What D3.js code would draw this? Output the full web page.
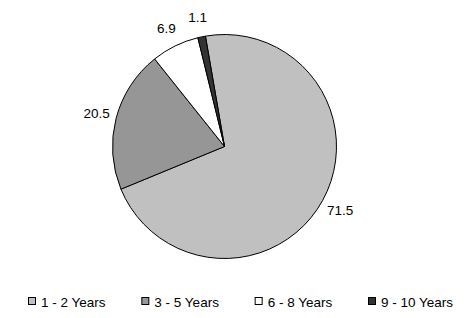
<!DOCTYPE html>
<html><head><meta charset="utf-8">
<script src="https://cdn.jsdelivr.net/npm/d3@7"></script>
<style>body{margin:0;background:#fff}svg{display:block}</style>
</head><body>
<script>
const categories = ["1 - 2 Years", "3 - 5 Years", "6 - 8 Years", "9 - 10 Years"];
const values = [71.5, 20.5, 6.9, 1.1];
const labels = ["71.5", "20.5", "6.9", "1.1"];
const colors = ["#c0c0c0", "#969696", "#ffffff", "#333333"];

const W = 465, H = 318;
const svg = d3.select("body").append("svg").attr("width", W).attr("height", H);
const cx = 224.5, cy = 146.5, R = 112;
const offset = -9.8 * Math.PI / 180;
const pie = d3.pie().sort(null).value(d => d)
  .startAngle(offset).endAngle(offset + 2 * Math.PI);
const arcs = pie(values);
const arc = d3.arc().innerRadius(0).outerRadius(R);
const g = svg.append("g").attr("transform", `translate(${cx},${cy})`);
g.selectAll("path").data(arcs).enter().append("path")
  .attr("d", arc).attr("fill", (d, i) => colors[i])
  .attr("stroke", "#000").attr("stroke-width", 1);

const labelArc = d3.arc().innerRadius(132).outerRadius(132);
const font = "'Liberation Sans', Arial, sans-serif";
g.selectAll("text.lbl").data(arcs).enter().append("text")
  .attr("class", "lbl")
  .attr("x", d => labelArc.centroid(d)[0])
  .attr("y", d => labelArc.centroid(d)[1])
  .attr("dy", "0.35em")
  .attr("text-anchor", "middle")
  .attr("font-family", font).attr("font-size", 13.5).attr("fill", "#000")
  .text((d, i) => labels[i]);

const legendX = d3.scalePoint().domain(categories).range([28, 368]);
const lg = svg.selectAll("g.leg").data(categories).enter().append("g")
  .attr("class", "leg").attr("transform", d => `translate(${legendX(d)},297)`);
lg.append("rect").attr("x", 0.5).attr("y", 0.5).attr("width", 7).attr("height", 7)
  .attr("fill", (d, i) => colors[i]).attr("stroke", "#000").attr("stroke-width", 1);
lg.append("text").attr("x", 13).attr("y", 9.5)
  .attr("font-family", font).attr("font-size", 13.5).attr("fill", "#000")
  .text(d => d);
</script>
</body></html>
